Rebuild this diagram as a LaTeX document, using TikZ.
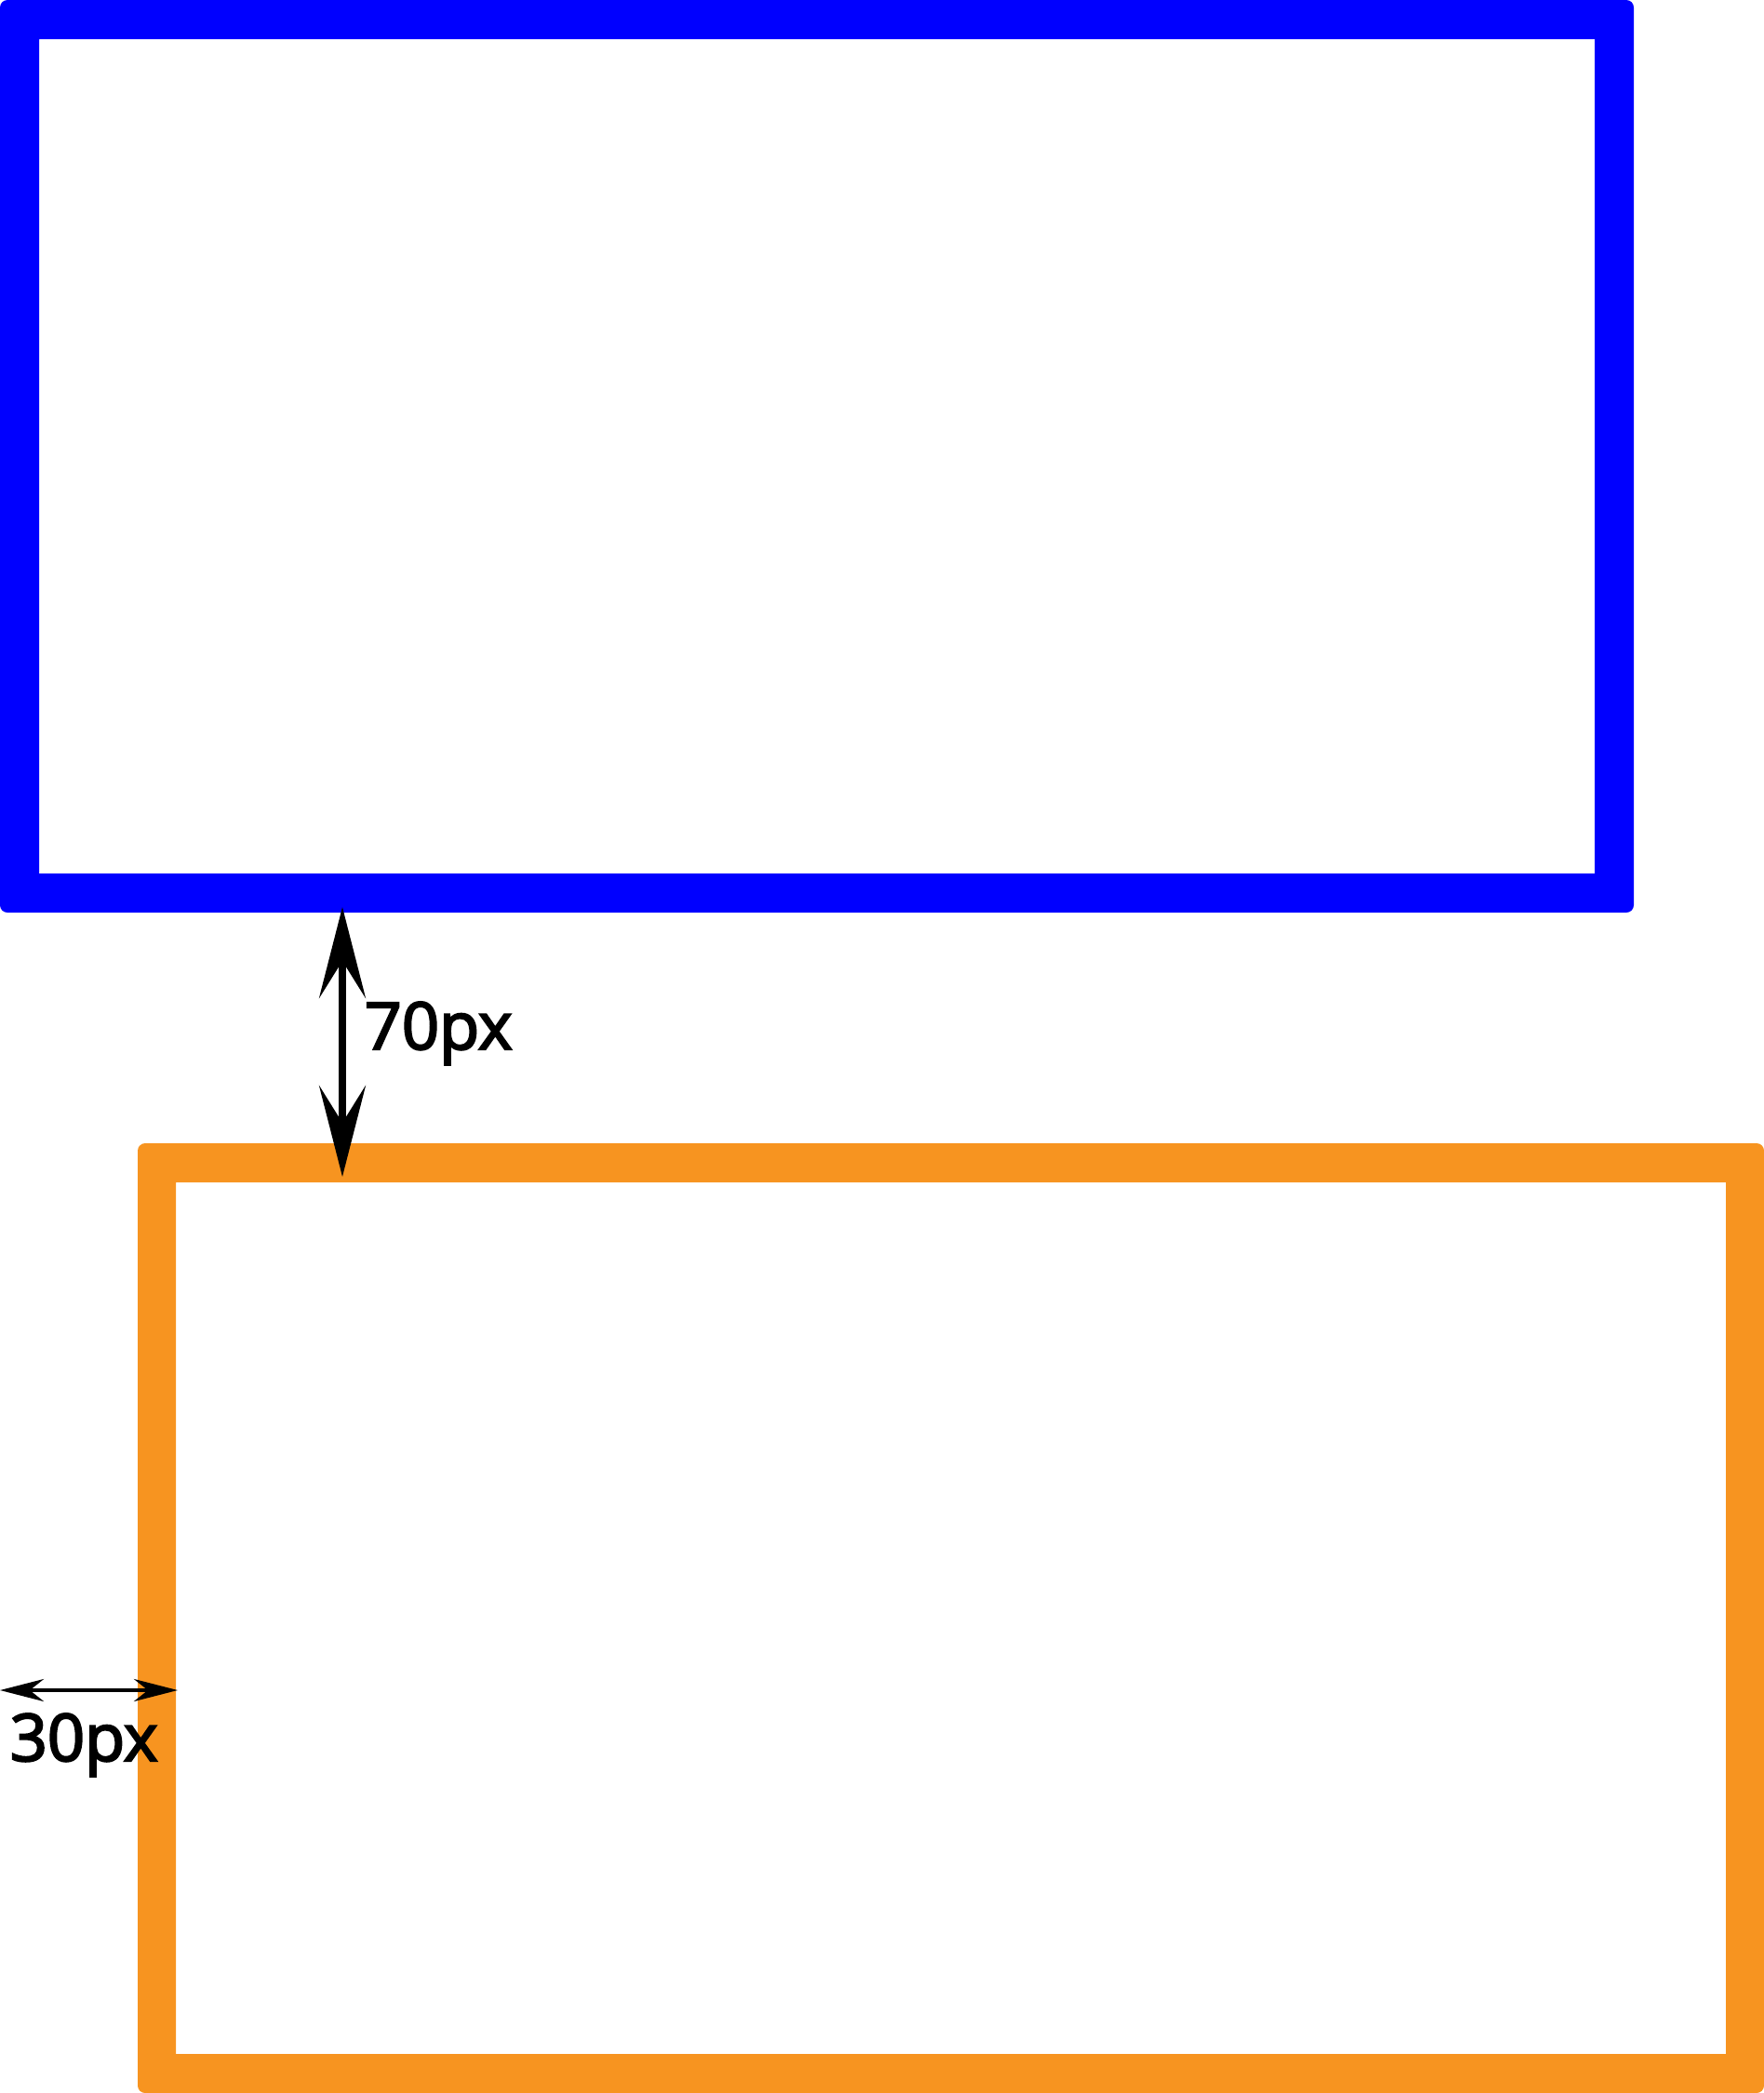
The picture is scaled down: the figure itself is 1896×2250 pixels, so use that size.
\documentclass[tikz,border=0pt]{standalone}
\usepackage{fontspec}
\setmainfont{Open Sans}
\newfontfamily\measurefont{Open Sans}[FakeBold=3]
\usetikzlibrary{arrows.meta}
\definecolor{frameblue}{RGB}{0, 0, 255}
\definecolor{frameorange}{RGB}{247, 148, 32}
\begin{document}
\begin{tikzpicture}[x=0.01cm, y=-0.01cm,
  gap/.style={line width=0.08cm, -{Stealth[length=0.98cm, width=0.5cm, inset=0.4cm]}},
  margin/.style={line width=0.04cm, -{Stealth[length=0.47cm, width=0.24cm, inset=0.15cm]}},
  measure/.style={font=\measurefont\fontsize{20}{24}\selectfont, inner sep=0pt, anchor=base west}]
  \useasboundingbox (0,0) rectangle (1896,2250);

  %Frames
  \fill[frameblue, even odd rule]
   [rounded corners=0.08cm] (0,0) rectangle (1756,981)
   [sharp corners] (42,42) rectangle (1714,939);
  \fill[frameorange, even odd rule]
   [rounded corners=0.08cm] (148,1229) rectangle (1896,2250)
   [sharp corners] (189,1271) rectangle (1855,2208);

  %Distances
  \coordinate (gap) at (368,1120);
  \coordinate (gaptop) at (368,975);
  \coordinate (gapbottom) at (368,1265);
  \coordinate (margin) at (95,1817);
  \coordinate (marginleft) at (0,1817);
  \coordinate (marginright) at (191,1817);

  \draw[gap] (gap) -- (gaptop);
  \draw[gap] (gap) -- (gapbottom);
  \draw[margin] (margin) -- (marginleft);
  \draw[margin] (margin) -- (marginright);

  \node[measure] (gaplabel) at (391,1128) {70px};
  \node[measure] (marginlabel) at (10,1893) {30px};
\end{tikzpicture}
\end{document}
